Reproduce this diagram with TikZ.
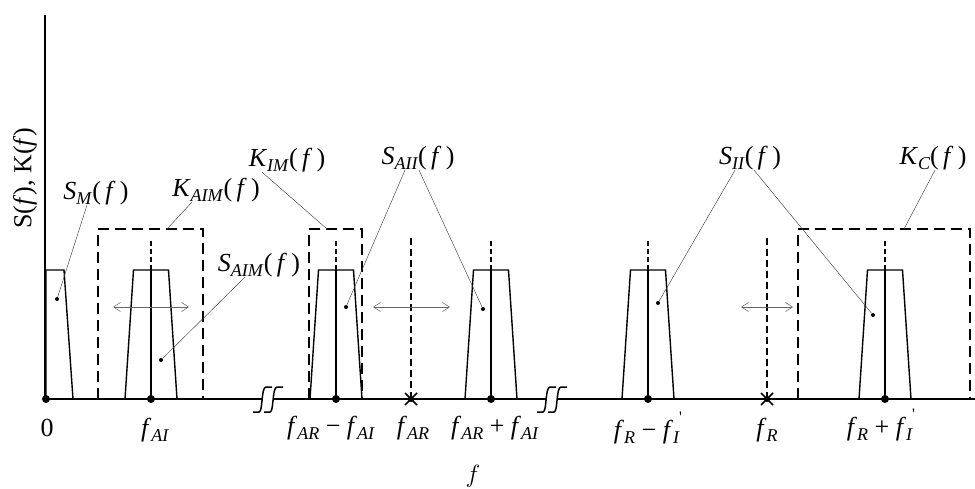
\documentclass[tikz,border=0pt]{standalone}
\usepackage{fontspec}
\setmainfont{Liberation Serif}
\usetikzlibrary{arrows.meta}
\newcommand\fsub[2]{\textit{#1}\raisebox{-0.4ex}{\fontsize{18}{20}\selectfont\textit{#2}}}
\newcommand\fpr[1]{\textit{f}\raisebox{-0.4ex}{\fontsize{18}{20}\selectfont\textit{#1}}\kern-0.5pt\raisebox{1.3ex}{\fontsize{16}{18}\selectfont\textquotesingle}}
\newcommand\argf{(\,\textit{f}\,)}
\begin{document}
\begin{tikzpicture}[x=1pt,y=-1pt,
  every node/.style={inner sep=0pt,font=\fontsize{26}{30}\selectfont},
  axisline/.style={line width=1.7pt},
  spec/.style={line width=1.4pt},
  filt/.style={line width=1.5pt,dash pattern=on 11pt off 6pt},
  cline/.style={line width=1.4pt,dash pattern=on 5pt off 3pt},
  carrier/.style={line width=1.4pt,dash pattern=on 7pt off 4pt},
  leader/.style={line width=0.45pt,black!75},
  shiftarr/.style={line width=0.55pt,black!60,{Straight Barb[length=7pt,width=9pt]}-{Straight Barb[length=7pt,width=9pt]}},
  ldot/.style={circle,fill,minimum size=4pt},
  tdot/.style={circle,fill,minimum size=8pt}]
\useasboundingbox (0,0) rectangle (975,489);
% axes with breaks
\draw[axisline] (45,15) -- (45,399) -- (262,399);
\draw[axisline] (273,399) -- (546,399);
\draw[axisline] (557,399) -- (975,399);
\foreach \x in {262,273,546,557}
  \draw[line width=1.5pt] (\x-9,412) -- (\x-3,412) .. controls (\x+1,412) and (\x-1,387) .. (\x+4,387) -- (\x+10,387);
% spectra
\draw[spec] (46,399) -- (46,270) -- (64,270) -- (73,399);
\foreach \c in {151,336,491,648,885}{
  \draw[spec] (\c-26,399) -- (\c-17.5,270) -- (\c+17.5,270) -- (\c+26,399);
  \draw[spec] (\c,399) -- (\c,270);
  \draw[cline] (\c,270) -- (\c,240);
}
% filters
\draw[filt] (98,399) -- (98,229) -- (203,229) -- (203,399);
\draw[filt] (309,399) -- (309,229) -- (362,229) -- (362,399);
\draw[filt] (798,399) -- (798,229) -- (970,229) -- (970,399);
% carriers
\draw[carrier] (411,399) -- (411,238);
\draw[carrier] (767,399) -- (767,238);
\foreach \c in {411,767}
  \draw[line width=1.7pt] (\c-6,393) -- (\c+6,405) (\c-6,405) -- (\c+6,393);
% points on the axis
\foreach \c/\n in {46/d0,151/d1,336/d2,491/d4,648/d5,885/d7}
  \node[tdot] (\n) at (\c,399) {};
\node[tdot,minimum size=6pt] (d3) at (411,399) {};
\node[tdot,minimum size=6pt] (d6) at (767,399) {};
% axis labels
\node[rotate=90] (ylab) at (25,178) {S(\textit{f}), K(\textit{f})};
\node (l0) at (47,428) {0};
\node (l1) at (155,430) {\fsub{f}{AI}};
\node (l2) at (331,428) {\fsub{f}{AR} − \fsub{f}{AI}};
\node (l3) at (413,428) {\fsub{f}{AR}};
\node (l4) at (495,428) {\fsub{f}{AR} + \fsub{f}{AI}};
\node (l5) at (648,428) {\fsub{f}{R} − \fpr{I}};
\node (l6) at (767,430) {\fsub{f}{R}};
\node (l7) at (881,425) {\fsub{f}{R} + \fpr{I}};
\node (fax) at (473,476) {$f$};
% curve labels
\node (sm) at (96,193) {\fsub{S}{M}\argf};
\node (kaim) at (216,190) {\fsub{K}{AIM}\argf};
\node (kim) at (287,160) {\fsub{K}{IM}\argf};
\node (saii) at (418,158) {\fsub{S}{AII}\argf};
\node (saim) at (259,265) {\fsub{S}{AIM}\argf};
\node (sii) at (750,158) {\fsub{S}{II}\argf};
\node (kc) at (933,158) {\fsub{K}{C}\argf};
% leader ends
\node[ldot] (p1) at (57,299) {};
\node[ldot] (p2) at (161,360) {};
\node[ldot] (p3) at (346,307) {};
\node[ldot] (p4) at (483,309) {};
\node[ldot] (p5) at (658,303) {};
\node[ldot] (p6) at (873,315) {};
\coordinate (kaimtop) at (167,229);
\coordinate (kimtop) at (327,229);
\coordinate (kctop) at (904,229);
\draw[leader] ([xshift=-9pt]sm.south) -- (p1);
\draw[leader] ([xshift=-24pt]kaim.south) -- (kaimtop);
\draw[leader] ([xshift=-25pt]kim.south) -- (kimtop);
\draw[leader] ([xshift=-13pt]saii.south) -- (p3);
\draw[leader] ([xshift=1pt]saii.south) -- (p4);
\draw[leader] ([xshift=-14pt]saim.south) -- (p2);
\draw[leader] ([xshift=-15pt]sii.south) -- (p5);
\draw[leader] ([xshift=4pt]sii.south) -- (p6);
\draw[leader] ([xshift=2pt]kc.south) -- (kctop);
% shift arrows
\coordinate (a1l) at (113,307); \coordinate (a1r) at (189,307);
\coordinate (a2l) at (373,307); \coordinate (a2r) at (450,307);
\coordinate (a3l) at (741,307); \coordinate (a3r) at (793,307);
\draw[shiftarr] (a1l) -- (a1r);
\draw[shiftarr] (a2l) -- (a2r);
\draw[shiftarr] (a3l) -- (a3r);
\end{tikzpicture}
\end{document}
